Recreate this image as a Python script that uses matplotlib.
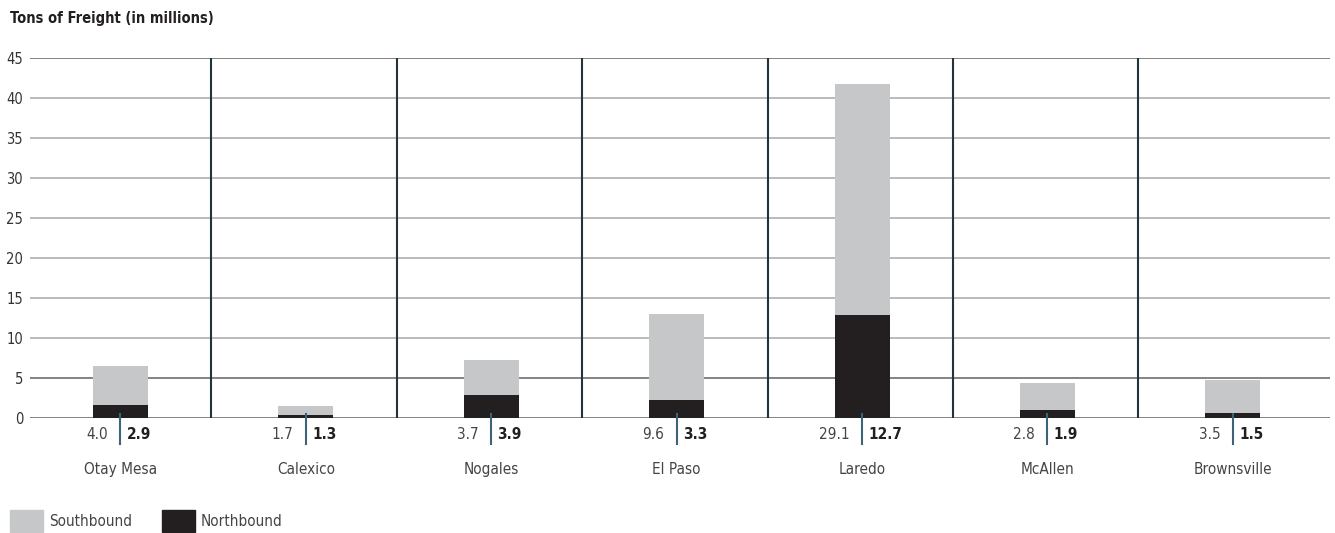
import matplotlib
matplotlib.use('Agg')
import matplotlib.pyplot as plt
from matplotlib.patches import Patch
import numpy as np

crossings = ['Otay Mesa', 'Calexico', 'Nogales', 'El Paso', 'Laredo', 'McAllen', 'Brownsville']
north_bar = [1.65, 0.4, 2.9, 2.3, 12.9, 1.05, 0.65]
total_bar = [6.5, 1.5, 7.2, 13.0, 41.8, 4.4, 4.8]
south_labels = ['4.0', '1.7', '3.7', '9.6', '29.1', '2.8', '3.5']
north_labels = ['2.9', '1.3', '3.9', '3.3', '12.7', '1.9', '1.5']
yticks = [0, 5, 10, 15, 20, 25, 30, 35, 40, 45]

FAM = ['Liberation Sans Narrow', 'DejaVu Sans']
plt.rcParams['font.family'] = FAM
plt.rcParams['font.stretch'] = 'condensed'

LIGHT = '#c6c7c9'
DARK = '#231f20'
SEP = '#22333f'
TICK = '#3b6478'
TXT = '#333333'

fig = plt.figure(figsize=(13.35, 5.33), dpi=100)
ax = fig.add_axes([30/1335, 1-418/533, 1300/1335, 360/533])

x = np.arange(len(crossings))
south_bar = np.array(total_bar) - np.array(north_bar)
w = 0.297
ax.bar(x, north_bar, width=w, color=DARK, zorder=3)
ax.bar(x, south_bar, width=w, bottom=north_bar, color=LIGHT, zorder=3)

ax.set_xlim(-0.488, 6.524)
ax.set_ylim(0, 45)

for yv in yticks:
    c = '#7a7a7a' if yv in (0, 5, 45) else '#b5b5b5'
    ax.axhline(yv, color=c, lw=1.3, zorder=1)

for i in range(len(crossings) - 1):
    ax.plot([i + 0.49, i + 0.49], [0, 45], color=SEP, lw=1.5, zorder=2)

for s in ax.spines.values():
    s.set_visible(False)
ax.set_xticks([])
ax.set_yticks(yticks)
ax.set_yticklabels([str(v) for v in yticks], fontsize=10.5, color=TXT)
ax.tick_params(axis='y', length=0, pad=5)

for i in range(len(crossings)):
    ax.plot([x[i], x[i]], [0.5, -3.2], color=TICK, lw=1.5, clip_on=False, zorder=4)
    ax.annotate(south_labels[i], xy=(x[i], -2.1), xytext=(-9, 0), textcoords='offset points',
                ha='right', va='center', fontsize=11, color='#444444', annotation_clip=False)
    ax.annotate(north_labels[i], xy=(x[i], -2.1), xytext=(4.5, 0), textcoords='offset points',
                ha='left', va='center', fontsize=11, color=DARK, fontweight='bold', annotation_clip=False)
    ax.text(x[i], -6.4, crossings[i], ha='center', va='center', fontsize=11, color='#444444')

fig.text(10/1335, 1-18/533, 'Tons of Freight (in millions)', ha='left', va='center',
         fontsize=10.5, fontweight='bold', color=DARK)

handles = [Patch(color=LIGHT, label='Southbound'), Patch(color=DARK, label='Northbound')]
leg = fig.legend(handles=handles, loc='lower left', bbox_to_anchor=(-4/1335, -13/533), ncol=2,
                 frameon=False, fontsize=11, handlelength=2.16, handleheight=1.85,
                 columnspacing=1.95, handletextpad=0.4)
for t in leg.get_texts():
    t.set_color('#444444')

fig.savefig('out.png', dpi=100)
